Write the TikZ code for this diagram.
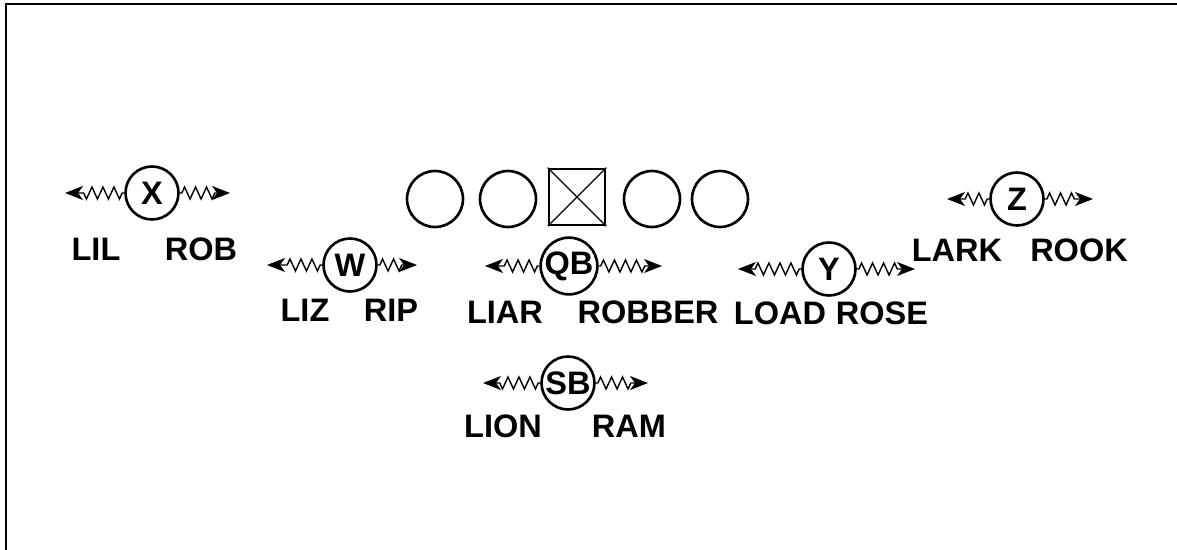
\documentclass[tikz,border=0pt]{standalone}
\usepackage{fontspec}
\setmainfont{Liberation Sans}
\usetikzlibrary{positioning,shapes,calc,arrows.meta,decorations.pathmorphing}

\tikzset{
  player/.style = {circle, draw, line width=1.5pt, minimum size=1.06cm,
    inner sep=0pt, font=\fontsize{18.5}{21}\selectfont\bfseries},
  lineman/.style = {circle, draw, line width=1.5pt, minimum size=1.12cm, inner sep=0pt},
  snapper/.style = {rectangle, draw, line width=1.5pt, minimum size=1.12cm, inner sep=0pt},
  route/.style = {inner sep=0pt, font=\fontsize{18.5}{21}\selectfont\bfseries},
  motion/.style = {line width=0.8pt, -{Stealth[length=0.36cm,width=0.28cm,inset=0.1cm]},
    decorate, decoration={zigzag, segment length=0.22cm, amplitude=0.12cm,
      pre length=0.04cm, post length=0.3cm}},
  frame/.style = {line width=1.5pt}
}

\begin{document}
\begin{tikzpicture}[x=0.02cm, y=-0.02cm]
  \useasboundingbox (0,0) rectangle (1177,550);
  \draw[frame] (6,550) -- (6,4) -- (1177,4);

  % offensive line
  \node[lineman] (LT) at (435,199) {};
  \node[lineman] (LG) at (508,199) {};
  \node[snapper] (C) at (577,197) {};
  \node[lineman] (RG) at (652,199) {};
  \node[lineman] (RT) at (720,199) {};
  \draw[line width=0.7pt] (C.north west) -- (C.south east)
                          (C.north east) -- (C.south west);

  % backs and receivers with their motion tags
  \foreach \pos/\x/\y/\tl/\tr/\lx/\rx/\ly/\ltag/\rtag in {
      X/152/193/65/230/96/201/249/LIL/ROB,
      W/350/265/267/417/305/391/310/LIZ/RIP,
      QB/569/266/485/662/505/648/312/LIAR/ROBBER,
      Y/829/269/738/915/780/882/313/LOAD/ROSE,
      Z/1017/199/947/1093/957/1079/250/LARK/ROOK,
      SB/568/383/483/648/503/629/426/LION/RAM} {
    \node[player] (\pos) at (\x,\y) {\pos};
    \coordinate (\pos-l) at (\tl,\y);
    \coordinate (\pos-r) at (\tr,\y);
    \draw[motion] (\pos) -- (\pos-l);
    \draw[motion] (\pos) -- (\pos-r);
    \node[route] (\pos-lt) at (\lx,\ly) {\ltag};
    \node[route] (\pos-rt) at (\rx,\ly) {\rtag};
  }
\end{tikzpicture}
\end{document}
